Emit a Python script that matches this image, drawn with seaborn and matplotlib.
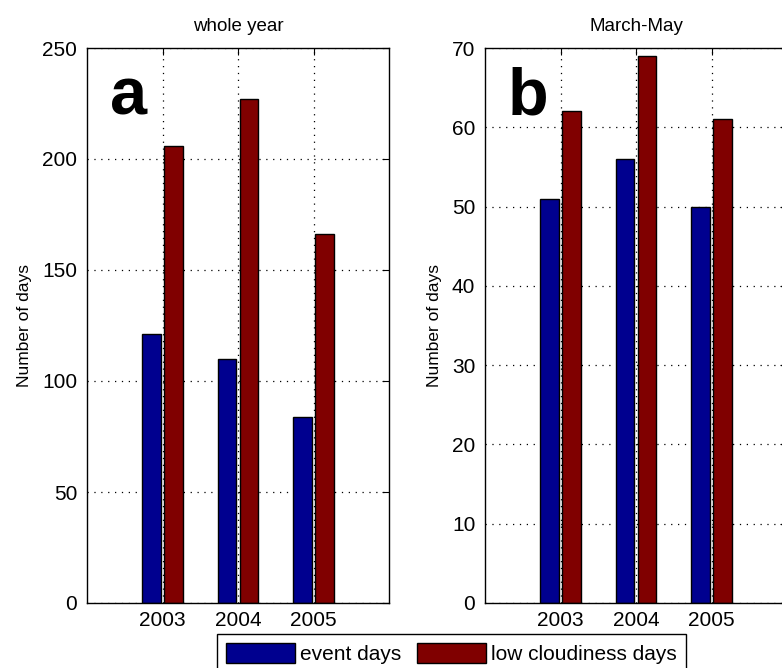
import seaborn as sns
import matplotlib.pyplot as plt
import matplotlib.patches as mpatches
import pandas as pd

# values
years = ["2003", "2004", "2005"]
event_year = [121, 110, 84]
lowcloud_year = [206, 227, 166]
event_mam = [51, 56, 50]
lowcloud_mam = [62, 69, 61]

kinds = ["event days", "low cloudiness days"]
colors = ["#00008f", "#800000"]

sns.set_style("white")
plt.rcParams["font.family"] = ["Liberation Sans", "DejaVu Sans"]
plt.rcParams["text.color"] = "black"
plt.rcParams["axes.labelcolor"] = "black"


def make_df(ev, lc):
    return pd.DataFrame({
        "year": years * 2,
        "days": ev + lc,
        "kind": [kinds[0]] * len(years) + [kinds[1]] * len(years),
    })


fig = plt.figure(figsize=(7.82, 6.68), dpi=100)
W, H = 782.0, 668.0
ax_w = 302 / W
ax_h = 555 / H
ax_bot = (H - 603) / H
axa = fig.add_axes([87 / W, ax_bot, ax_w, ax_h])
axb = fig.add_axes([485 / W, ax_bot, ax_w, ax_h])

panels = [
    (axa, make_df(event_year, lowcloud_year), 250, 50, "whole year", "a"),
    (axb, make_df(event_mam, lowcloud_mam), 70, 10, "March-May", "b"),
]

for ax, df, ymax, ystep, title, letter in panels:
    sns.barplot(data=df, x="year", y="days", hue="kind", hue_order=kinds,
                palette=colors, width=0.58, gap=0.15, edgecolor="black",
                linewidth=1, errorbar=None, legend=False, saturation=1, ax=ax)
    ax.set_xlim(-1, 3)
    ax.set_ylim(0, ymax)
    ax.set_yticks(range(0, ymax + 1, ystep))
    ax.set_axisbelow(True)
    ax.grid(True, linestyle=(0, (1, 4.5)), color="black", linewidth=0.9)
    ax.tick_params(direction="in", length=5, width=0.8, top=True, right=True,
                   labelsize=15, colors="black")
    ax.tick_params(axis="y", pad=7)
    ax.tick_params(axis="x", pad=6)
    for s in ax.spines.values():
        s.set_color("black")
        s.set_linewidth(1)
    ax.set_xlabel("")
    ax.set_ylabel("Number of days", fontsize=12.5, labelpad=7, color="black")
    ax.text(0.5, 1.031, title, transform=ax.transAxes, ha="center",
            va="baseline", fontsize=13.5, color="black")
    ax.text(0.075, 0.88, letter, transform=ax.transAxes, ha="left",
            va="baseline", fontsize=48, fontweight="bold", color="black")

handles = [mpatches.Patch(facecolor=c, edgecolor="black", linewidth=1) for c in colors]
leg = fig.legend(handles, kinds, loc="upper left",
                 bbox_to_anchor=(217 / W, (H - 634) / H), ncol=2, fontsize=15,
                 frameon=True, fancybox=False, framealpha=1, edgecolor="black",
                 handlelength=3.3, handleheight=1.1, handletextpad=0.25,
                 columnspacing=0.75, borderpad=0.45, borderaxespad=0)
leg.get_frame().set_linewidth(1)

fig.savefig("out.png", dpi=100)
